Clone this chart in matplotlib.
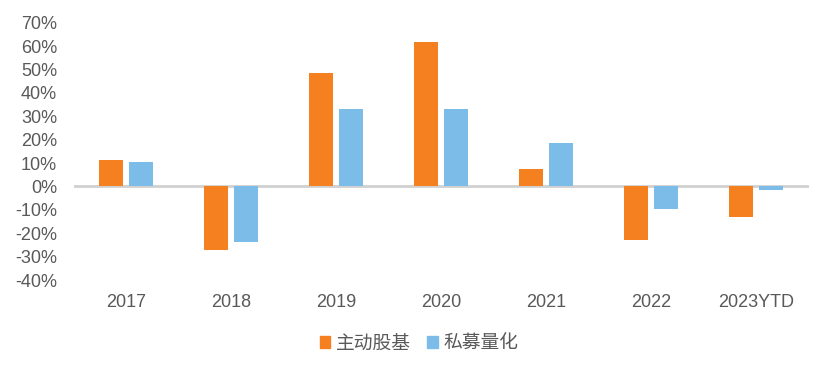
import matplotlib
matplotlib.use("Agg")
import matplotlib.pyplot as plt
import matplotlib.transforms as mtransforms
from matplotlib.patches import Patch
from matplotlib.ticker import FuncFormatter
import numpy as np

categories = ["2017", "2018", "2019", "2020", "2021", "2022", "2023YTD"]
series_names = ["主动股基", "私募量化"]
active_equity = [11.1, -27.4, 48.3, 61.5, 7.3, -23.1, -13.2]
quant_private = [10.3, -23.9, 32.9, 32.9, 18.4, -9.8, -1.7]
y_ticks = [70, 60, 50, 40, 30, 20, 10, 0, -10, -20, -30, -40]

colors = ["#F58020", "#7BBDE8"]
text_color = "#595959"

plt.rcParams['font.family'] = ['Liberation Sans', 'Noto Sans CJK SC', 'DejaVu Sans']

fig = plt.figure(figsize=(8.32, 3.72), dpi=100)
top_px, bot_px = 22.1, 279.6
ax = fig.add_axes([73.5 / 832, 1 - bot_px / 372, 735 / 832, (bot_px - top_px) / 372])

x = np.arange(len(categories))
w = 24 / 105
off = 15 / 105
ax.bar(x - off, active_equity, w, color=colors[0], zorder=2)
ax.bar(x + off, quant_private, w, color=colors[1], zorder=2)

ax.axhline(0, color="#D0D0D0", lw=2, zorder=1)

ax.set_xlim(-0.5, len(categories) - 0.5)
ax.set_ylim(-40, 70)
ax.set_yticks(y_ticks)
ax.yaxis.set_major_formatter(FuncFormatter(lambda v, p: f"{int(round(v))}%"))
ax.set_xticks(x)
ax.set_xticklabels(categories)
for s in ax.spines.values():
    s.set_visible(False)
ax.tick_params(axis="both", length=0, labelsize=13, colors=text_color)
ax.tick_params(axis="y", pad=11.8)
ax.tick_params(axis="x", pad=10.5)
shift = mtransforms.ScaledTranslation(0, -2.5 / 100, fig.dpi_scale_trans)
for lbl in ax.get_yticklabels():
    lbl.set_va("center")
    lbl.set_transform(lbl.get_transform() + shift)

handles = [Patch(color=colors[0]), Patch(color=colors[1])]
leg = fig.legend(handles, series_names, loc="center", bbox_to_anchor=(419 / 832, 1 - 343 / 372),
                 ncol=2, frameon=False, handlelength=0.55, handleheight=0.55,
                 handletextpad=0.3, columnspacing=0.9,
                 prop={"family": ["Noto Sans CJK SC", "DejaVu Sans"], "size": 13.5})
for t in leg.get_texts():
    t.set_color(text_color)

fig.savefig("out.png", dpi=100)
